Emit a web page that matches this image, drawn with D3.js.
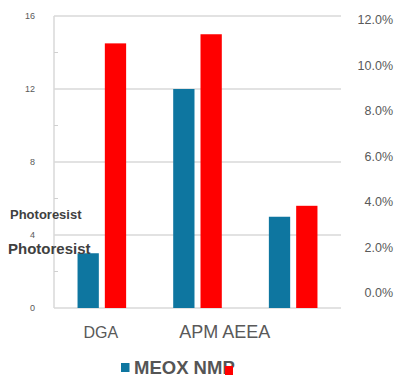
<!DOCTYPE html>
<html>
<head>
<meta charset="utf-8">
<script src="https://cdn.jsdelivr.net/npm/d3@7"></script>
<style>
  html, body { margin: 0; padding: 0; background: #fff; }
  svg { display: block; font-family: "Liberation Sans", Arial, sans-serif; }
</style>
</head>
<body>
<svg id="chart" width="413" height="382"></svg>
<script>
// ---- data ----
const categories = ["DGA", "APM", "AEEA"];
const categoryLabels = ["DGA", "APM AEEA", ""];
const seriesNames = ["MEOX", "NMP"];
const meoxValues = [3, 12, 5];
const nmpValues = [14.5, 15, 5.6];
const leftTicks = [0, 4, 8, 12, 16];
const leftMinorTicks = [2, 6, 10, 14];
const rightTicks = [0, 2, 4, 6, 8, 10, 12];
const annotations = ["Photoresist", "Photoresist"];
const legendLabel = "MEOX NMP";

const colors = { MEOX: "#0e76a0", NMP: "#ff0000" };

const svg = d3.select("#chart");
const plotL = 54, plotR = 341, plotT = 16, plotB = 308;

const x0 = d3.scaleBand().domain(categories).range([plotL, plotR]).padding(0);
const x1 = d3.scaleBand().domain(seriesNames).range([0, x0.bandwidth()])
  .paddingInner(0.22).paddingOuter(0.862);
const y = d3.scaleLinear().domain([0, 16]).range([plotB, plotT]);
const yR = d3.scaleLinear().domain([0, 12]).range([293, 20]);

// gridlines
svg.append("g").selectAll("line").data(leftTicks).join("line")
  .attr("x1", plotL).attr("x2", plotR)
  .attr("y1", d => y(d)).attr("y2", d => y(d))
  .attr("stroke", "#d9d9d9").attr("stroke-width", 1.5);

// left axis line + minor ticks
svg.append("line").attr("x1", plotL).attr("x2", plotL)
  .attr("y1", y(16)).attr("y2", y(0))
  .attr("stroke", "#d9d9d9").attr("stroke-width", 1.5);
svg.append("g").selectAll("line").data(leftMinorTicks).join("line")
  .attr("x1", plotL).attr("x2", plotL + 4)
  .attr("y1", d => y(d)).attr("y2", d => y(d))
  .attr("stroke", "#d0d0d0").attr("stroke-width", 1);

// left tick labels
svg.append("g").selectAll("text").data(leftTicks).join("text")
  .attr("x", 35).attr("y", d => y(d)).attr("dy", "0.35em")
  .attr("text-anchor", "end").attr("font-size", 9).attr("fill", "#595959")
  .text(d => d);

// right tick labels
svg.append("g").selectAll("text").data(rightTicks).join("text")
  .attr("x", 393).attr("y", d => yR(d)).attr("dy", "0.35em")
  .attr("text-anchor", "end").attr("font-size", 12.5).attr("fill", "#595959")
  .text(d => d.toFixed(1) + "%");

// bars
const rows = categories.map((c, i) => ({ cat: c, MEOX: meoxValues[i], NMP: nmpValues[i] }));
const g = svg.append("g");
rows.forEach(r => {
  seriesNames.forEach(s => {
    g.append("rect")
      .attr("x", x0(r.cat) + x1(s))
      .attr("y", y(r[s]))
      .attr("width", x1.bandwidth())
      .attr("height", y(0) - y(r[s]))
      .attr("fill", colors[s]);
  });
});

// category labels
svg.append("g").selectAll("text").data(categories).join("text")
  .attr("x", d => x0(d) + 29.5).attr("y", 338)
  .attr("font-size", (d, i) => i === 0 ? 16 : 18).attr("fill", "#595959")
  .text((d, i) => categoryLabels[i]);

// annotations
svg.append("text").attr("x", 10).attr("y", 218.5)
  .attr("font-size", 13).attr("font-weight", "bold").attr("fill", "#404040")
  .text(annotations[0]);
svg.append("text").attr("x", 8).attr("y", 254)
  .attr("font-size", 15).attr("font-weight", "bold").attr("fill", "#404040")
  .text(annotations[1]);

// legend
svg.append("rect").attr("x", 121).attr("y", 363).attr("width", 8.5).attr("height", 9)
  .attr("fill", colors.MEOX);
svg.append("text").attr("x", 134).attr("y", 374)
  .attr("font-size", 18.5).attr("font-weight", "bold").attr("fill", "#555555")
  .text(legendLabel);
svg.append("rect").attr("x", 225).attr("y", 366).attr("width", 8).attr("height", 9)
  .attr("fill", colors.NMP);
</script>
</body>
</html>
